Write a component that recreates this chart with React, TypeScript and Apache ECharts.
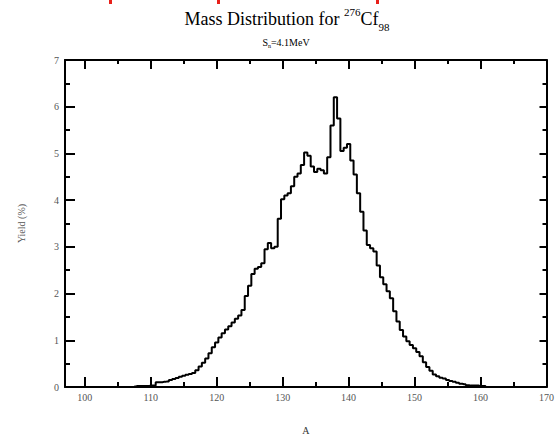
import React, { useEffect, useRef } from "react";
import * as echarts from "echarts";

const massA: number[] = [
  107.5, 108, 108.5, 109, 109.5, 110, 110.5, 111, 111.5, 112, 112.5, 113, 113.5, 114, 114.5,
  115, 115.5, 116, 116.5, 117, 117.5, 118, 118.5, 119, 119.5, 120, 120.5, 121, 121.5, 122,
  122.5, 123, 123.5, 124, 124.5, 125, 125.5, 126, 126.5, 127, 127.5, 128, 128.5, 129, 129.5,
  130, 130.5, 131, 131.5, 132, 132.5, 133, 133.5, 134, 134.5, 135, 135.5, 136, 136.5, 137,
  137.5, 138, 138.5, 139, 139.5, 140, 140.5, 141, 141.5, 142, 142.5, 143, 143.5, 144, 144.5,
  145, 145.5, 146, 146.5, 147, 147.5, 148, 148.5, 149, 149.5, 150, 150.5, 151, 151.5, 152,
  152.5, 153, 153.5, 154, 154.5, 155, 155.5, 156, 156.5, 157, 157.5, 158, 158.5, 159, 159.5,
  160, 160.5, 161,
];
const yieldPct: number[] = [
  0.01, 0.02, 0.02, 0.02, 0.02, 0.03, 0.03, 0.1, 0.1, 0.11, 0.12, 0.15, 0.17, 0.19, 0.22,
  0.24, 0.26, 0.28, 0.3, 0.36, 0.44, 0.52, 0.61, 0.72, 0.85, 0.95, 1.06, 1.15, 1.23, 1.3,
  1.38, 1.46, 1.53, 1.65, 1.95, 2.17, 2.42, 2.53, 2.57, 2.65, 2.95, 3.08, 2.97, 3.0, 3.6,
  4.02, 4.1, 4.15, 4.3, 4.5, 4.57, 4.75, 5.02, 4.95, 4.72, 4.6, 4.67, 4.64, 4.57, 4.92,
  5.6, 6.2, 5.75, 5.05, 5.12, 5.2, 4.85, 4.55, 4.15, 3.75, 3.35, 3.04, 2.97, 2.9, 2.6,
  2.35, 2.2, 2.05, 1.9, 1.62, 1.4, 1.22, 1.08, 0.98, 0.9, 0.83, 0.75, 0.66, 0.53, 0.43,
  0.35, 0.27, 0.23, 0.2, 0.18, 0.15, 0.13, 0.11, 0.09, 0.07, 0.06, 0.04, 0.03, 0.03, 0.03,
  0.02, 0.02, 0.0,
];
const xMajorTicks: number[] = [100, 110, 120, 130, 140, 150, 160, 170];
const xMinorTicks: number[] = [105, 115, 125, 135, 145, 155, 165];

const FONT = "Liberation Serif, Times New Roman, serif";

export default function App() {
  const ref = useRef<HTMLDivElement>(null);
  useEffect(() => {
    if (!ref.current) return;
    const chart = echarts.init(ref.current, undefined, { renderer: "svg" });
    const data = massA.map((a, i) => [a, yieldPct[i]]);
    const labelStyle = { color: "#555", fontFamily: FONT, fontSize: 10 };
    const lineStyle = { color: "#000", width: 2 };
    const baseX = {
      type: "value" as const,
      min: 97,
      max: 170,
      splitLine: { show: false },
    };
    const option: any = {
      animation: false,
      backgroundColor: "#fff",
      grid: { left: 65, right: 10, top: 60, bottom: 44, containLabel: false },
      xAxis: [
        {
          ...baseX,
          position: "bottom",
          axisLine: { show: true, onZero: false, lineStyle },
          axisTick: { show: true, inside: true, length: 10, lineStyle, customValues: xMajorTicks },
          axisLabel: { ...labelStyle, margin: 5, customValues: xMajorTicks },
          name: "A",
          nameLocation: "middle",
          nameGap: 38,
          nameTextStyle: { color: "#333", fontFamily: FONT, fontSize: 10 },
        },
        {
          ...baseX,
          position: "bottom",
          axisLine: { show: false, onZero: false },
          axisTick: { show: true, inside: true, length: 5, lineStyle, customValues: xMinorTicks },
          axisLabel: { show: false },
        },
        {
          ...baseX,
          position: "top",
          axisLine: { show: true, onZero: false, lineStyle },
          axisTick: { show: true, inside: true, length: 9, lineStyle, customValues: xMajorTicks },
          axisLabel: { show: false },
        },
        {
          ...baseX,
          position: "top",
          axisLine: { show: false, onZero: false },
          axisTick: { show: true, inside: true, length: 4, lineStyle, customValues: xMinorTicks },
          axisLabel: { show: false },
        },
      ],
      yAxis: [
        {
          type: "value",
          min: 0,
          max: 7,
          interval: 1,
          position: "left",
          splitLine: { show: false },
          axisLine: { show: true, onZero: false, lineStyle },
          axisTick: { show: true, inside: true, length: 10, lineStyle },
          minorTick: { show: true, splitNumber: 2, length: 5, lineStyle },
          axisLabel: { ...labelStyle, margin: 6 },
          name: "Yield (%)",
          nameLocation: "middle",
          nameGap: 39,
          nameRotate: 90,
          nameTextStyle: { color: "#555", fontFamily: FONT, fontSize: 10 },
        },
        {
          type: "value",
          min: 0,
          max: 7,
          interval: 1,
          position: "right",
          splitLine: { show: false },
          axisLine: { show: true, onZero: false, lineStyle },
          axisTick: { show: true, inside: true, length: 7, lineStyle },
          minorTick: { show: true, splitNumber: 2, length: 4, lineStyle },
          axisLabel: { show: false },
        },
      ],
      graphic: [
        { type: "rect", shape: { x: 109, y: 0, width: 3, height: 4 }, style: { fill: "#e8201a" } },
        { type: "rect", shape: { x: 217, y: 0, width: 3, height: 4 }, style: { fill: "#e8201a" } },
        { type: "rect", shape: { x: 376, y: 0, width: 3, height: 4 }, style: { fill: "#e8201a" } },
        {
          type: "text",
          x: 287,
          y: 19,
          style: {
            text: "{a|Mass Distribution for }{sup|276}{a|Cf}{sub|98}",
            align: "center",
            verticalAlign: "middle",
            rich: {
              a: { fontFamily: FONT, fontSize: 18, color: "#222", lineHeight: 26, verticalAlign: "middle" },
              sup: { fontFamily: FONT, fontSize: 11, color: "#222", lineHeight: 26, verticalAlign: "top", padding: [0, 0, 8, 0] },
              sub: { fontFamily: FONT, fontSize: 11, color: "#222", lineHeight: 26, verticalAlign: "bottom", padding: [8, 0, 0, 0] },
            },
          },
        },
        {
          type: "text",
          x: 286,
          y: 42,
          style: {
            text: "{a|S}{sub|n}{a|=4.1MeV}",
            align: "center",
            verticalAlign: "middle",
            rich: {
              a: { fontFamily: FONT, fontSize: 10, color: "#333", lineHeight: 14, verticalAlign: "middle" },
              sub: { fontFamily: FONT, fontSize: 6, color: "#333", lineHeight: 14, verticalAlign: "bottom", padding: [4, 0, 0, 0] },
            },
          },
        },
      ],
      series: [
        {
          type: "line",
          xAxisIndex: 0,
          yAxisIndex: 0,
          data,
          step: "middle",
          showSymbol: false,
          lineStyle: { color: "#000", width: 2 },
          z: 1,
        },
      ],
    };
    chart.setOption(option);
    return () => chart.dispose();
  }, []);
  return <div ref={ref} style={{ position: "absolute", left: 0, top: 0, width: 557, height: 440 }} />;
}
